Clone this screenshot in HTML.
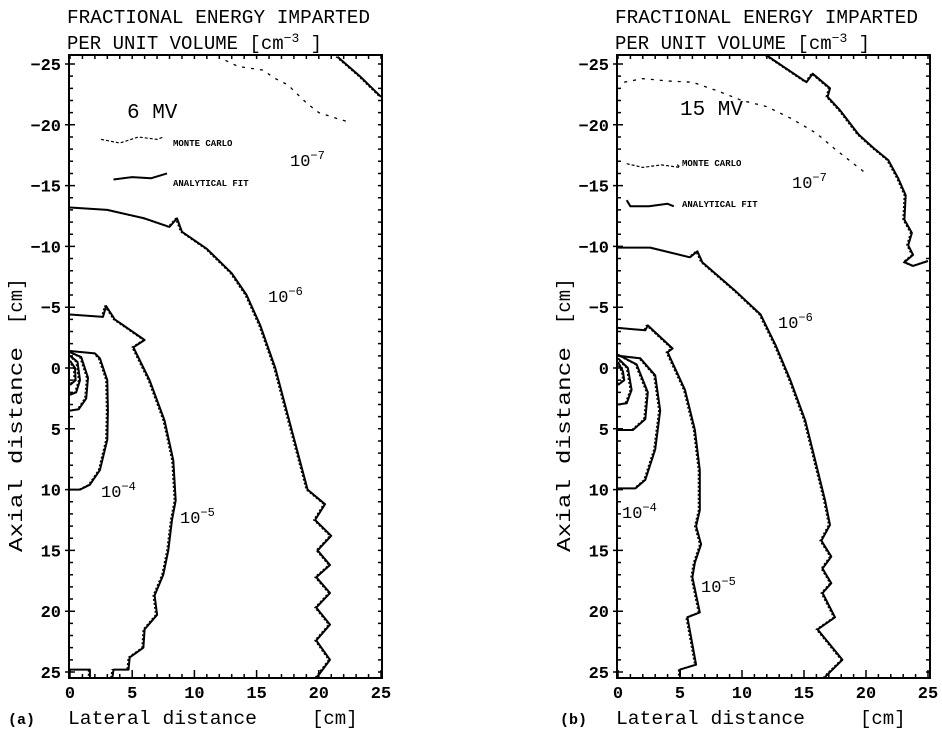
<!DOCTYPE html>
<html><head><meta charset="utf-8"><style>
html,body{margin:0;padding:0;background:#fff;}
svg{display:block;}
text{font-family:"Liberation Mono",monospace;fill:#000;}
</style></head><body>
<svg id="fig" width="942" height="738" viewBox="0 0 942 738">
<g id="pa"></g>
<g id="pb"></g>
</svg>
<script>
// axis ticks
const tickValues = [-25,-20,-15,-10,-5,0,5,10,15,20,25];
const xTickValues = [0,5,10,15,20,25];
// Panel A (6 MV) analytical-fit contours: [lateral cm, axial cm]
const a_fit7 = [[21.5,-25.6],[23.3,-24.0],[25.0,-22.3]];
const a_fit6 = [[0,-13.2],[3,-13.0],[6,-12.3],[8,-11.6],[8.6,-12.3],[9,-11.2],[11,-9.8],[13,-7.8],[14.2,-6.0],[15.3,-3.5],[16.5,0],[17.8,5],[19.1,10],[20.5,11.2],[19.7,12.5],[21,13.8],[19.9,15],[20.9,16.2],[19.8,17.2],[20.9,18.5],[19.8,19.7],[20.9,21.1],[19.8,22.4],[20.9,24.0],[19.8,25.5]];
const a_fit5 = [[0,-4.4],[2.65,-4.2],[2.9,-5.1],[3.6,-4.0],[6.0,-2.3],[5.1,-1.7],[6.4,1.0],[7.6,4.3],[8.3,7.6],[8.5,10.9],[8.2,12.5],[7.9,15],[7.5,17],[6.8,18.7],[7.0,20.3],[6.0,21.5],[5.9,23],[4.8,23.8],[4.7,24.8],[3.5,24.8],[3.4,25.5]];
const a_fit5b = [[0,24.8],[1.6,24.8],[1.6,25.5]];
const a_fit4 = [[0,-1.4],[2.0,-1.2],[2.4,-0.8],[3.0,1.0],[3.05,3.5],[3.0,5.9],[2.4,8.4],[1.6,9.6],[0.8,10.0],[0,10.0]];
const a_fit3 = [[0,-1.3],[0.9,-0.9],[1.45,0.8],[1.3,2.5],[0.7,3.4],[0,3.5]];
const a_fit2 = [[0,-1.0],[0.6,-0.5],[0.8,1.0],[0.5,2.0],[0,2.2]];
const a_fit1 = [[0,-0.6],[0.4,0],[0.45,1.0],[0,1.4]];
const a_mc7 = [[12.5,-25.3],[13.5,-24.8],[15.5,-24.5],[16.5,-23.8],[17.5,-23.3],[19,-21.8],[20,-21],[21.5,-20.5],[22.5,-20.2]];
// Panel B (15 MV)
const b_fit7 = [[12.0,-25.7],[15.2,-23.5],[15.7,-24.2],[17.1,-23.0],[16.9,-22.3],[17.9,-21.2],[19.4,-19.2],[20.6,-18.1],[21.8,-17.1],[22.6,-15.6],[23.2,-14.2],[23.1,-12.2],[23.7,-11.1],[23.4,-10.1],[23.8,-9.3],[23.1,-8.7],[23.8,-8.4],[25.0,-8.8]];
const b_fit6 = [[0,-9.9],[2.6,-9.9],[5.8,-9.1],[6.4,-9.6],[6.8,-8.7],[9.4,-6.4],[11.5,-4.4],[12.7,-1.9],[13.9,1.0],[15.1,4.3],[15.9,7.6],[16.7,10.9],[17.1,12.9],[16.4,14.2],[17.2,15.5],[16.5,16.5],[17.2,17.7],[16.5,18.5],[17.5,20.5],[16.1,21.5],[18.1,24.0],[16.7,25.4]];
const b_fit5 = [[0,-3.3],[2.2,-3.1],[2.4,-3.5],[4.4,-1.6],[4.0,-1.3],[5.4,1.8],[6.2,5.1],[6.6,8.4],[6.6,11.7],[6.3,13],[6.7,14.5],[6.2,16],[6.0,17.2],[6.6,20.1],[5.6,20.5],[6.3,24.4],[5.0,24.8],[5.0,25.4]];
const b_fit4 = [[0,-1.0],[1.8,-0.8],[3.0,0.6],[3.4,3.5],[3.0,6.7],[2.2,9.2],[1.4,9.9],[0,9.9]];
const b_fit3 = [[0,-1.1],[1.5,-0.3],[2.4,2.0],[2.2,4.2],[1.2,5.1],[0,5.1]];
const b_fit2 = [[0,-0.8],[0.8,0],[1.1,1.8],[0.7,2.9],[0,3.0]];
const b_fit1 = [[0,-0.5],[0.4,0.3],[0.5,1.0],[0,1.4]];
const b_mc7 = [[0.5,-23.5],[2,-23.8],[4,-23.6],[6,-23.5],[8,-22.8],[10,-22],[12,-21.5],[14,-20.5],[16,-19.3],[17.5,-18],[19,-16.8],[20,-16]];

const NS='http://www.w3.org/2000/svg';
function mk(parent,tag,attrs,txt){const e=document.createElementNS(NS,tag);for(const k in attrs)e.setAttribute(k,attrs[k]);if(txt!==undefined)e.textContent=txt;parent.appendChild(e);return e;}

function panel(g,P){
  const X=v=>P.x0+v*P.sx, Y=v=>P.y0+(v+25)*P.sy;
  const L=P.left,R=P.right,T=55,B=678;
  const fr=mk(g,'rect',{x:L,y:T,width:R-L,height:B-T,fill:'none',stroke:'#000','stroke-width':2});
  
  
  // minor ticks every 1 cm
  let d='';
  for(let v=-25;v<=25;v++){const y=Y(v);d+=`M${L},${y}h4M${R},${y}h-4`;}
  for(let v=0;v<=25;v++){const x=X(v);d+=`M${x},${T}v4M${x},${B}v-4`;}
  tickValues.forEach(v=>{const y=Y(v);d+=`M${L-4},${y}h10`;});
  xTickValues.forEach(v=>{const x=X(v);d+=`M${x},${B}v-8`;});
  const tk=mk(g,'path',{d:d,stroke:'#000','stroke-width':1.5,fill:'none'});
  
  
  tickValues.forEach(v=>{
    const t=mk(g,'text',{x:L-8,y:Y(v)+6,'text-anchor':'end','font-size':17,'font-weight':'bold'},(v<0?'\u2212':'')+Math.abs(v));
    
    
  });
  xTickValues.forEach(v=>{
    const t=mk(g,'text',{x:X(v),y:698,'text-anchor':'middle','font-size':17,'font-weight':'bold'},String(v));
    
    
  });
  const line=(pts,w,dash,name,dx)=>{
    const p=mk(g,'path',{d:pts.map((q,i)=>(i?'L':'M')+(X(q[0])+(dx||0)).toFixed(1)+','+Y(q[1]).toFixed(1)).join(''),fill:'none',stroke:'#000','stroke-width':w,'stroke-linejoin':'round'});
    if(dash)p.setAttribute('stroke-dasharray',dash);
    
    
  };
  P.fits.forEach(f=>{line(f[0],1.2,'2 2','monte-carlo-'+f[1],-1.5);line(f[0],2,null,'fit-contour-'+f[1]);});
  line(P.mc7,1.3,'3 6','monte-carlo-1e-7');
  // legend
  line(P.legMC,1.2,'3 2','legend-monte-carlo-line');
  line(P.legFit,2,null,'legend-fit-line');
  const lt=mk(g,'text',{x:P.legX,y:P.legY1,'font-size':9,'font-weight':'bold','font-family':'Liberation Sans, sans-serif'},'MONTE CARLO');
  
  const lf=mk(g,'text',{x:P.legX,y:P.legY2,'font-size':9,'font-weight':'bold','font-family':'Liberation Sans, sans-serif'},'ANALYTICAL FIT');
  
  const en=mk(g,'text',{x:P.enX,y:P.enY,'font-size':21},P.energy);
  
  P.labels.forEach(l=>{
    const t=mk(g,'text',{x:l[0],y:l[1],'font-size':17},'10');
    mk(t,'tspan',{dy:-7,'font-size':12},l[2]);
    
    
  });
  // titles
  const t1=mk(g,'text',{x:L-2,y:23,'font-size':19,textLength:303,lengthAdjust:'spacingAndGlyphs'},'FRACTIONAL ENERGY IMPARTED');
  
  const t2=mk(g,'text',{x:L-2,y:49,'font-size':19},'PER UNIT VOLUME [cm');
  mk(t2,'tspan',{dy:-7,'font-size':13},'\u22123');
  mk(t2,'tspan',{dy:7},' ]');
  
  const xl=mk(g,'text',{x:L-1,y:724,'font-size':19,textLength:189,lengthAdjust:'spacingAndGlyphs'},'Lateral distance');
  
  const xu=mk(g,'text',{x:L+243,y:724,'font-size':19},'[cm]');
  
  const pl=mk(g,'text',{x:P.tagX,y:724,'font-size':15,'font-weight':'bold'},P.tag);
  
  const yl=mk(g,'text',{x:0,y:0,'font-size':19,transform:`translate(${L-47},552) rotate(-90)`,textLength:205,lengthAdjust:'spacingAndGlyphs'},'Axial distance');
  
  const yu=mk(g,'text',{x:0,y:0,'font-size':19,transform:`translate(${L-47},324) rotate(-90)`},'[cm]');
  
}
panel(document.getElementById('pa'),{x0:70,sx:12.44,y0:64,sy:12.16,left:69,right:382,
  fits:[[a_fit7,'1e-7'],[a_fit6,'1e-6'],[a_fit5,'1e-5'],[a_fit5b,'1e-5-base'],[a_fit4,'1e-4'],[a_fit3,'1e-3'],[a_fit2,'1e-2'],[a_fit1,'1e-1']],
  mc7:a_mc7,legMC:[[2.5,-18.8],[4,-18.5],[5.5,-19],[7,-18.8],[7.5,-19]],legFit:[[3.5,-15.5],[5,-15.7],[6.5,-15.6],[7.8,-16]],
  legX:173,legY1:146,legY2:186,enX:127,enY:118,energy:'6 MV',tag:'(a)',tagX:8,
  labels:[[290,166,'\u22127'],[268,302,'\u22126'],[101,497,'\u22124'],[180,523,'\u22125']]});
panel(document.getElementById('pb'),{x0:618,sx:12.4,y0:64,sy:12.16,left:617,right:930,
  fits:[[b_fit7,'1e-7'],[b_fit6,'1e-6'],[b_fit5,'1e-5'],[b_fit4,'1e-4'],[b_fit3,'1e-3'],[b_fit2,'1e-2'],[b_fit1,'1e-1']],
  mc7:b_mc7,legMC:[[0.7,-16.8],[2,-16.5],[3.5,-16.7],[5,-16.5],[4.7,-16.8]],legFit:[[0.7,-13.8],[1,-13.3],[2.5,-13.3],[4,-13.5],[4.5,-13.3]],
  legX:682,legY1:166,legY2:207,enX:680,enY:115,energy:'15 MV',tag:'(b)',tagX:560,
  labels:[[792,188,'\u22127'],[778,328,'\u22126'],[622,518,'\u22124'],[701,592,'\u22125']]});
</script>
</body></html>
